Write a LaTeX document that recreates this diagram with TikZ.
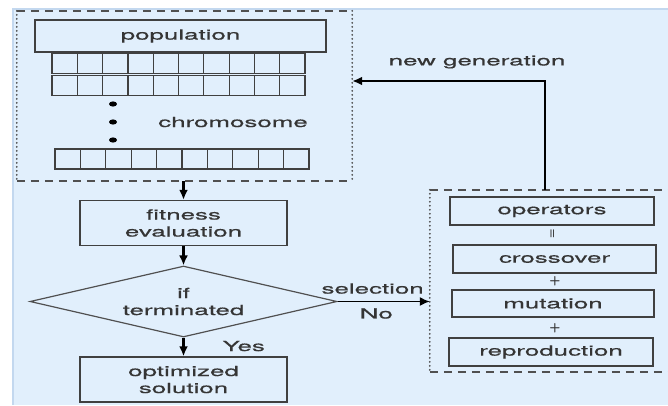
\documentclass[tikz,border=0pt]{standalone}
\usepackage{fontspec}
\newfontfamily\diagfont[FakeStretch=1.85,FakeBold=0.6]{TeX Gyre Heros}
\usetikzlibrary{arrows.meta,shapes.geometric}
\definecolor{bgblue}{HTML}{E1EFFC}
\definecolor{edgeblue}{HTML}{C3D8EF}
\definecolor{linegray}{HTML}{404040}
\definecolor{textgray}{HTML}{353535}
\definecolor{framegray}{HTML}{505050}

\tikzset{
  box/.style={draw=linegray, line width=1.4pt, rectangle, inner sep=0pt,
    align=center, text=textgray, font=\diagfont\fontsize{14}{17}\selectfont},
  cell/.style={draw=linegray, line width=1.2pt, rectangle, inner sep=0pt,
    minimum height=20pt},
  frame/.style={rectangle, inner sep=0pt},
  dashside/.style={draw=framegray, line width=1.7pt, dash pattern=on 8pt off 6pt},
  dotside/.style={draw=framegray, line width=2pt, line cap=round, dash pattern=on 0pt off 4pt},
  arr/.style={-{Latex[length=10pt,width=9pt]}, line width=2.2pt, black},
  lbl/.style={text=textgray, font=\diagfont\fontsize{14}{17}\selectfont, inner sep=1pt},
  sign/.style={text=textgray, inner sep=0pt},
}

\begin{document}
\begin{tikzpicture}[x=1pt,y=-1pt]
\useasboundingbox (0,0) rectangle (668,405);
\fill [bgblue] (12,8) rectangle (668,405);
\draw [edgeblue, line width=2pt] (13,405) -- (13,9) -- (668,9);

% population frame
\node [frame, minimum width=335pt, minimum height=170pt] (popframe) at (184.5,96) {};
\draw [dashside] (popframe.north west) -- (popframe.north east);
\draw [dashside] (popframe.south west) -- (popframe.south east);
\draw [dotside] (popframe.north west) -- (popframe.south west);
\draw [dotside] (popframe.north east) -- (popframe.south east);

\node [box, minimum width=291pt, minimum height=32pt] (pop) at (180.5,36) {population};
\foreach \i in {1,...,10} {
  \node [cell, minimum width=25.3pt] (ca\i) at (52+25.3*\i-12.65,63.5) {};
  \node [cell, minimum width=25.3pt] (cb\i) at (52+25.3*\i-12.65,85.5) {};
  \node [cell, minimum width=25.4pt] (cc\i) at (55+25.4*\i-12.7,159) {};
}
\foreach \y in {104,122,140}
  \fill [black] (113,\y) ellipse [x radius=4pt, y radius=2.6pt];
\node [lbl] (chromo) at (233,122) {chromosome};

% main flow
\node [box, minimum width=207pt, minimum height=45pt] (fit) at (183.5,223) {fitness\\evaluation};
\node [box, draw=framegray, line width=1.2pt, shape=diamond, aspect=4.3, minimum width=307pt, minimum height=71pt] (term) at (183.5,301.5) {if\\terminated};
\node [box, minimum width=207pt, minimum height=45pt] (opt) at (183.5,379.5) {optimized\\solution};

\draw [arr] (fit.north |- popframe.south) -- (fit.north);
\draw [arr] (fit.south) -- (term.north);
\draw [arr] (term.south) -- (opt.north) node [lbl, pos=0.45, right=37pt] (yes) {Yes};

% operators frame
\node [frame, minimum width=250pt, minimum height=182pt] (opsframe) at (555,281) {};
\draw [dashside] (opsframe.north west) -- (opsframe.north east);
\draw [dashside] (opsframe.south west) -- (opsframe.south east);
\draw [dotside] (opsframe.north west) -- (opsframe.south west);

\node [box, minimum width=204pt, minimum height=28pt] (ops) at (552,211) {operators};
\node [box, minimum width=203pt, minimum height=28pt] (cross) at (554.5,259) {crossover};
\node [box, minimum width=202pt, minimum height=27pt] (mut) at (553,303.5) {mutation};
\node [box, minimum width=204pt, minimum height=28pt] (repro) at (551,352) {reproduction};
\node [sign, font=\sffamily\bfseries\fontsize{11}{11}\selectfont, rotate=90] (eq) at (553,234) {=};
\node [sign, font=\sffamily\bfseries\fontsize{13}{13}\selectfont] (plusa) at (555,281) {+};
\node [sign, font=\sffamily\bfseries\fontsize{13}{13}\selectfont] (plusb) at (555,328) {+};

\draw [arr, line width=1.5pt] (term.east) -- (term.east -| opsframe.west)
  node [lbl, pos=0.38, above=6pt] (sel) {selection}
  node [lbl, pos=0.42, below=5pt] (no) {No};

% loop back
\coordinate (ngturn) at (545,81);
\draw [arr] (ngturn |- opsframe.north) -- (ngturn) -- (ngturn -| popframe.east);
\node [lbl] (newgen) at (477,62) {new generation};

\end{tikzpicture}
\end{document}
